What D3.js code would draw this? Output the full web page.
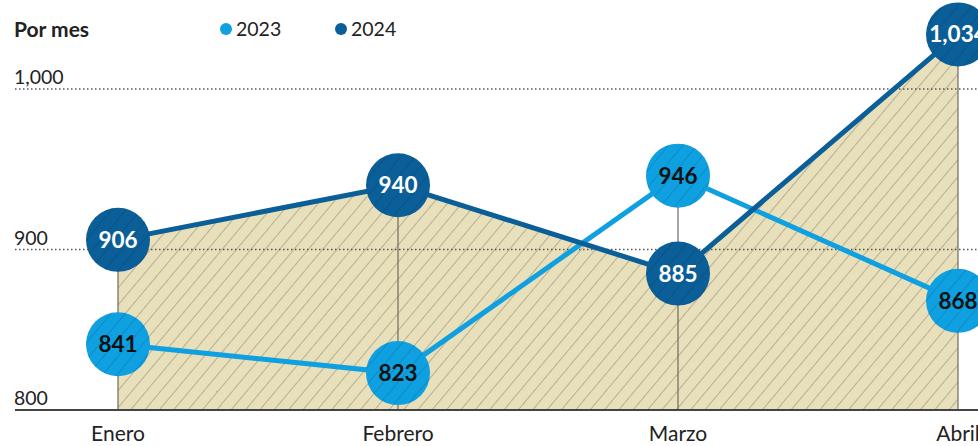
<!DOCTYPE html>
<html>
<head>
<meta charset="utf-8">
<script src="https://cdn.jsdelivr.net/npm/d3@7"></script>
<style>
  body { margin: 0; background: #fff; }
  svg { display: block; font-family: Lato, "Open Sans", sans-serif; }
</style>
</head>
<body>
<div id="chart"></div>
<script>
const months = ["Enero", "Febrero", "Marzo", "Abril"];
const values2023 = [841, 823, 946, 868];
const values2024 = [906, 940, 885, 1034];
const yTicks = [800, 900, 1000];

const width = 978;
const height = 446;

const c2023 = "#0ea0e0";
const c2024 = "#0b5f98";

const svg = d3.select("#chart")
  .append("svg")
  .attr("width", width)
  .attr("height", height);

const x = d3.scalePoint().domain(months).range([118, 958]);
const y = d3.scaleLinear().domain([800, 1000]).range([410, 89]);

const defs = svg.append("defs");
const hatch = defs.append("pattern")
  .attr("id", "hatch")
  .attr("patternUnits", "userSpaceOnUse")
  .attr("width", 11)
  .attr("height", 11)
  .attr("patternTransform", "rotate(40)");
hatch.append("rect").attr("width", 11).attr("height", 11).attr("fill", "#e8dfbb");
hatch.append("line")
  .attr("x1", 0).attr("y1", 0).attr("x2", 0).attr("y2", 11)
  .attr("stroke", "#857f6c").attr("stroke-width", 1);

const hatchOver = defs.append("pattern")
  .attr("id", "hatchOver")
  .attr("patternUnits", "userSpaceOnUse")
  .attr("width", 11)
  .attr("height", 11)
  .attr("patternTransform", "rotate(40)");
hatchOver.append("line")
  .attr("x1", 0).attr("y1", 0).attr("x2", 0).attr("y2", 11)
  .attr("stroke", "#000").attr("stroke-opacity", 0.25).attr("stroke-width", 1);

// area under 2024
const area = d3.area()
  .x((d, i) => x(months[i]))
  .y0(y(800))
  .y1(d => y(d));

svg.append("path")
  .datum(values2024)
  .attr("d", area)
  .attr("fill", "url(#hatch)");

// grid lines
svg.selectAll(".grid")
  .data(yTicks.filter(d => d > 800))
  .join("line")
  .attr("x1", 15).attr("x2", width)
  .attr("y1", d => y(d)).attr("y2", d => y(d))
  .attr("stroke", "#555")
  .attr("stroke-width", 1.3)
  .attr("stroke-dasharray", "1.5,2.5");

// vertical drop lines
svg.selectAll(".drop")
  .data(months)
  .join("line")
  .attr("x1", d => x(d)).attr("x2", d => x(d))
  .attr("y1", (d, i) => y(Math.max(values2023[i], values2024[i])))
  .attr("y2", y(800))
  .attr("stroke", "#6e6a5e")
  .attr("stroke-width", 1.2);

// baseline
svg.append("line")
  .attr("x1", 15).attr("x2", width)
  .attr("y1", y(800)).attr("y2", y(800))
  .attr("stroke", "#444")
  .attr("stroke-width", 2);

// tick labels
svg.selectAll(".ytick")
  .data(yTicks)
  .join("text")
  .attr("x", 14)
  .attr("y", d => y(d) - 5)
  .attr("font-size", 19.5)
  .attr("fill", "#222")
  .text(d => d3.format(",")(d));

// month labels
svg.selectAll(".month")
  .data(months)
  .join("text")
  .attr("x", d => x(d))
  .attr("y", 441)
  .attr("text-anchor", "middle")
  .attr("font-size", 21)
  .attr("fill", "#222")
  .text(d => d);

const line = d3.line().x((d, i) => x(months[i])).y(d => y(d));

const series = [
  { name: "2023", values: values2023, color: c2023, text: "#111" },
  { name: "2024", values: values2024, color: c2024, text: "#fff" }
];

series.forEach(s => {
  svg.append("path")
    .datum(s.values)
    .attr("d", line)
    .attr("fill", "none")
    .attr("stroke", s.color)
    .attr("stroke-width", 5);
});

series.forEach(s => {
  const g = svg.append("g");
  g.selectAll("circle")
    .data(s.values)
    .join("circle")
    .attr("cx", (d, i) => x(months[i]))
    .attr("cy", d => y(d))
    .attr("r", 32)
    .attr("fill", s.color);
  g.selectAll(".over")
    .data(s.values)
    .join("circle")
    .attr("cx", (d, i) => x(months[i]))
    .attr("cy", d => y(d))
    .attr("r", 32)
    .attr("fill", "url(#hatchOver)");
  g.selectAll("text")
    .data(s.values)
    .join("text")
    .attr("x", (d, i) => x(months[i]))
    .attr("y", d => y(d) + 8)
    .attr("text-anchor", "middle")
    .attr("font-size", 22.5)
    .attr("font-weight", "bold")
    .attr("fill", s.text)
    .text(d => d3.format(",")(d));
});

// title and legend
svg.append("text")
  .attr("x", 14).attr("y", 37)
  .attr("font-size", 21)
  .attr("font-weight", "bold")
  .attr("fill", "#222")
  .text("Por mes");

const legend = svg.selectAll(".legend")
  .data(series)
  .join("g")
  .attr("transform", (d, i) => `translate(${226 + i * 115}, 29)`);
legend.append("circle").attr("r", 6).attr("fill", d => d.color);
legend.append("text")
  .attr("x", 10).attr("y", 7)
  .attr("font-size", 19.5)
  .attr("fill", "#222")
  .text(d => d.name);
</script>
</body>
</html>
